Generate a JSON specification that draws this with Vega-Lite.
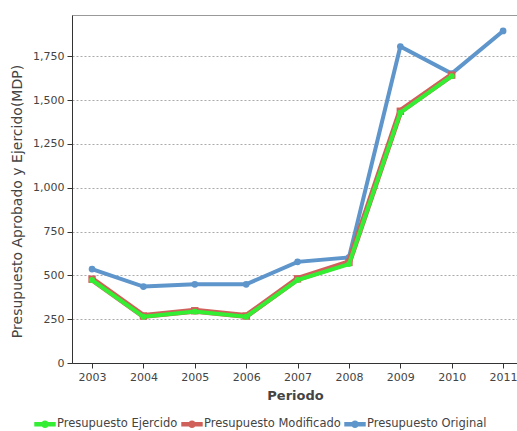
{
  "$schema": "https://vega.github.io/schema/vega-lite/v6.json",
  "autosize": {"type": "none"},
  "padding": {"left": 72, "top": 15, "right": 0, "bottom": 68},
  "width": 446,
  "height": 348,
  "background": "white",
  "config": {
    "font": "DejaVu Sans",
    "view": {"stroke": "#999999", "strokeWidth": 1},
    "axis": {"labelFont": "DejaVu Sans", "titleFont": "DejaVu Sans", "labelColor": "#444444", "titleColor": "#444444", "domainColor": "#333333", "tickColor": "#333333", "labelFontSize": 11, "titleFontSize": 13, "titleFontWeight": "bold"},
    "legend": {"labelFont": "DejaVu Sans", "labelFontSize": 11.5, "labelColor": "#444444"}
  },
  "data": {"values": [
    {"anio": 2003, "serie": "Presupuesto Original", "valor": 536},
    {"anio": 2004, "serie": "Presupuesto Original", "valor": 436},
    {"anio": 2005, "serie": "Presupuesto Original", "valor": 449},
    {"anio": 2006, "serie": "Presupuesto Original", "valor": 449},
    {"anio": 2007, "serie": "Presupuesto Original", "valor": 577},
    {"anio": 2008, "serie": "Presupuesto Original", "valor": 602},
    {"anio": 2009, "serie": "Presupuesto Original", "valor": 1805},
    {"anio": 2010, "serie": "Presupuesto Original", "valor": 1651},
    {"anio": 2011, "serie": "Presupuesto Original", "valor": 1894},
    {"anio": 2003, "serie": "Presupuesto Modificado", "valor": 478},
    {"anio": 2004, "serie": "Presupuesto Modificado", "valor": 268},
    {"anio": 2005, "serie": "Presupuesto Modificado", "valor": 298},
    {"anio": 2006, "serie": "Presupuesto Modificado", "valor": 268},
    {"anio": 2007, "serie": "Presupuesto Modificado", "valor": 480},
    {"anio": 2008, "serie": "Presupuesto Modificado", "valor": 574},
    {"anio": 2009, "serie": "Presupuesto Modificado", "valor": 1436},
    {"anio": 2010, "serie": "Presupuesto Modificado", "valor": 1642},
    {"anio": 2003, "serie": "Presupuesto Ejercido", "valor": 473},
    {"anio": 2004, "serie": "Presupuesto Ejercido", "valor": 264},
    {"anio": 2005, "serie": "Presupuesto Ejercido", "valor": 293},
    {"anio": 2006, "serie": "Presupuesto Ejercido", "valor": 264},
    {"anio": 2007, "serie": "Presupuesto Ejercido", "valor": 473},
    {"anio": 2008, "serie": "Presupuesto Ejercido", "valor": 564},
    {"anio": 2009, "serie": "Presupuesto Ejercido", "valor": 1428},
    {"anio": 2010, "serie": "Presupuesto Ejercido", "valor": 1636}
  ]},
  "encoding": {
    "x": {"field": "anio", "type": "quantitative",
      "scale": {"domain": [2002.61, 2011.29], "nice": false, "zero": false},
      "axis": {"title": "Periodo", "values": [2003, 2004, 2005, 2006, 2007, 2008, 2009, 2010, 2011], "format": "d", "grid": false, "tickSize": 5, "labelPadding": 3, "titlePadding": 7, "labelFlush": false}},
    "y": {"field": "valor", "type": "quantitative",
      "scale": {"domain": [0, 1985], "nice": false},
      "axis": {"title": "Presupuesto Aprobado y Ejercido(MDP)", "titleFontSize": 14, "titleFontWeight": "normal", "titleY": 186, "values": [0, 250, 500, 750, 1000, 1250, 1500, 1750], "format": ",.0f", "grid": true, "gridDash": [2, 2], "gridColor": "#aaaaaa", "tickSize": 5, "labelPadding": 3, "titlePadding": 8}},
    "color": {"field": "serie", "type": "nominal",
      "scale": {"domain": ["Presupuesto Ejercido", "Presupuesto Modificado", "Presupuesto Original"], "range": ["#33EE33", "#D0605A", "#5E95CB"]},
      "legend": {"title": null, "orient": "none", "direction": "horizontal", "legendX": -38, "legendY": 398, "symbolType": "M-1,-0.2 L1,-0.2 L1,0.2 L-1,0.2 Z M-0.35,0 A0.35,0.35 0 1,1 0.35,0 A0.35,0.35 0 1,1 -0.35,0 Z", "symbolSize": 460, "symbolStrokeWidth": 0, "columnPadding": 3, "labelOffset": 1}}
  },
  "layer": [
    {"transform": [{"filter": "datum.serie == 'Presupuesto Original'"}], "mark": {"type": "line", "strokeWidth": 4}},
    {"transform": [{"filter": "datum.serie == 'Presupuesto Original'"}], "mark": {"type": "point", "shape": "circle", "filled": true, "opacity": 1, "size": 45}},
    {"transform": [{"filter": "datum.serie == 'Presupuesto Modificado'"}], "mark": {"type": "line", "strokeWidth": 6}},
    {"transform": [{"filter": "datum.serie == 'Presupuesto Modificado'"}], "mark": {"type": "point", "shape": "square", "filled": true, "opacity": 1, "size": 55}},
    {"transform": [{"filter": "datum.serie == 'Presupuesto Ejercido'"}], "mark": {"type": "line", "strokeWidth": 4}},
    {"transform": [{"filter": "datum.serie == 'Presupuesto Ejercido'"}], "mark": {"type": "point", "shape": "circle", "filled": true, "opacity": 1, "size": 35}}
  ]
}
